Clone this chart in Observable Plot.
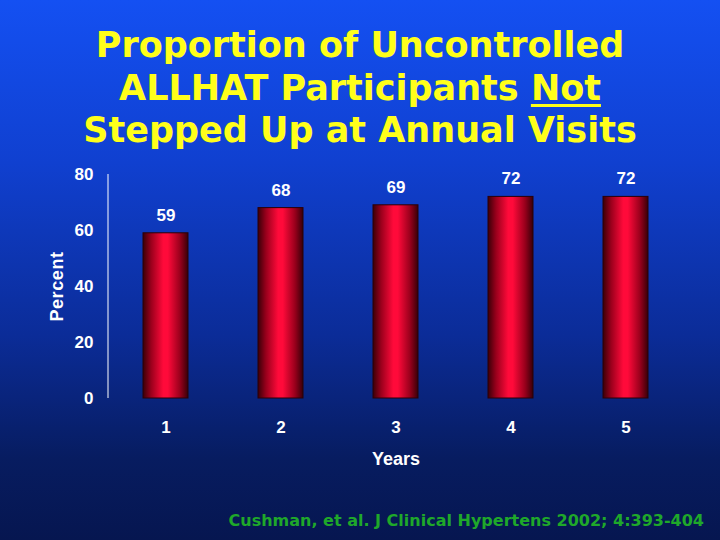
<!DOCTYPE html>
<html>
<head>
<meta charset="utf-8">
<script src="https://cdn.jsdelivr.net/npm/d3@7"></script>
<script src="https://cdn.jsdelivr.net/npm/@observablehq/plot@0.6"></script>
<style>
  html, body { margin: 0; padding: 0; }
  #wrap {
    position: relative; width: 720px; height: 540px; overflow: hidden;
    background: linear-gradient(to bottom, #1450f2 0%, #1040d0 30%, #0b2c98 62%, #071c60 85%, #061650 100%);
  }
  #title {
    position: absolute; left: 0; top: 24px; width: 720px; text-align: center;
    font-family: "DejaVu Sans", Verdana, sans-serif; font-weight: bold;
    font-size: 35px; line-height: 42.5px; color: #ffff1a;
  }
  #title u { text-decoration-thickness: 3px; text-underline-offset: 4px; }
  #chart { position: absolute; left: 0; top: 160px; }
  #caption {
    position: absolute; right: 16px; top: 511px;
    font-family: "DejaVu Sans", Tahoma, sans-serif; font-weight: bold;
    font-size: 16px; color: #1fa82a; white-space: nowrap;
  }
</style>
</head>
<body>
<div id="wrap">
  <div id="title">Proportion of Uncontrolled<br>ALLHAT Participants <u>Not</u><br>Stepped Up at Annual Visits</div>
  <div id="chart"></div>
  <div id="caption">Cushman, et al. J Clinical Hypertens 2002; 4:393-404</div>
</div>
<script>
const years = ["1", "2", "3", "4", "5"];
const percents = [59, 68, 69, 72, 72];
const yTicks = [0, 20, 40, 60, 80];
const yLabel = "Percent";
const xLabel = "Years";

const data = years.map((y, i) => ({year: y, value: percents[i]}));

const font = "'Liberation Sans', Arial, sans-serif";

function decorations(index, scales, values, dimensions) {
  const g = d3.create("svg:g");
  const defs = g.append("defs");
  const grad = defs.append("linearGradient").attr("id", "barGrad")
    .attr("x1", "0%").attr("x2", "100%").attr("y1", "0%").attr("y2", "0%");
  [[0, "#3a0008"], [0.18, "#9a001c"], [0.45, "#ff0a3a"], [0.55, "#ff0a3a"], [0.82, "#9a001c"], [1, "#380008"]]
    .forEach(([o, c]) => grad.append("stop").attr("offset", o).attr("stop-color", c));
  const x0 = dimensions.marginLeft;
  g.append("line")
    .attr("x1", x0).attr("x2", x0)
    .attr("y1", scales.y(80)).attr("y2", scales.y(0))
    .attr("stroke", "white").attr("stroke-width", 1);
  return g.node();
}

const chart = Plot.plot({
  width: 720,
  height: 340,
  marginTop: 14,
  marginLeft: 108,
  marginRight: 37,
  marginBottom: 102,
  style: {background: "transparent", color: "white", fontFamily: font, fontSize: "17px", fontWeight: "bold"},
  x: {domain: years, paddingInner: 0.61, paddingOuter: 0.305, label: null},
  y: {domain: [0, 80], label: null},
  marks: [
    decorations,
    Plot.barY(data, {x: "year", y: "value", fill: "url(#barGrad)", stroke: "#2a0008", strokeWidth: 1}),
    Plot.text(data, {x: "year", y: "value", text: d => String(d.value), dy: -18, fill: "white",
      fontSize: 17, fontWeight: "bold", lineAnchor: "middle"}),
    Plot.axisY({ticks: yTicks, tickSize: 0, tickPadding: 15, label: null, fontSize: 17, fontWeight: "bold"}),
    Plot.axisX({tickSize: 0, tickPadding: 22, label: null, fontSize: 17, fontWeight: "bold"}),
    Plot.text([xLabel], {frameAnchor: "bottom", text: d => d, dy: 61, fill: "white", fontSize: 18, fontWeight: "bold", lineAnchor: "middle"}),
    Plot.text([yLabel], {frameAnchor: "left", text: d => d, dx: -51, rotate: -90, fill: "white", fontSize: 18, fontWeight: "bold",
      textAnchor: "middle", lineAnchor: "middle", style: "letter-spacing: 0.6px"})
  ]
});
chart.querySelectorAll("text").forEach(t => { if (t.textContent === yLabel) t.style.letterSpacing = "0.6px"; });
document.getElementById("chart").appendChild(chart);
</script>
</body>
</html>
